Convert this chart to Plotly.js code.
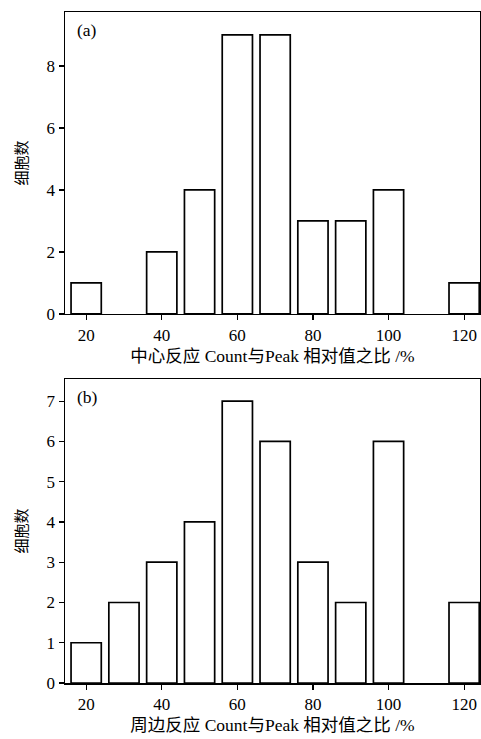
<!DOCTYPE html>
<html><head><meta charset="utf-8">
<script src="https://cdn.plot.ly/plotly-3.0.1.min.js"></script>
<style>html,body{margin:0;padding:0;background:#fff}</style>
</head><body><div id="chart" style="width:481px;height:739px"></div>
<script>
const binsA = [20, 40, 50, 60, 70, 80, 90, 100, 120];
const countsA = [1, 2, 4, 9, 9, 3, 3, 4, 1];
const binsB = [20, 30, 40, 50, 60, 70, 80, 90, 100, 120];
const countsB = [1, 2, 3, 4, 7, 6, 3, 2, 6, 2];
const xTicks = [20, 40, 60, 80, 100, 120];
const yTicksA = [0, 2, 4, 6, 8];
const yTicksB = [0, 1, 2, 3, 4, 5, 6, 7];
const xTitleA = '中心反应 Count与Peak 相对值之比 /%';
const xTitleB = '周边反应 Count与Peak 相对值之比 /%';
const yTitle = '细胞数';

const fontFam = '"Liberation Serif", "Noto Sans CJK SC", serif';
const barStyle = {color: '#fff', line: {color: '#000', width: 1.7}};

const data = [
  {type: 'bar', x: binsA, y: countsA, width: 8, marker: barStyle, xaxis: 'x', yaxis: 'y', hoverinfo: 'none'},
  {type: 'bar', x: binsB, y: countsB, width: 8, marker: barStyle, xaxis: 'x2', yaxis: 'y2', hoverinfo: 'none'}
];

function xax(anchor, title) {
  return {
    anchor: anchor, domain: [0, 1], range: [14.4, 124.2],
    tickvals: xTicks, ticks: 'outside', ticklen: 5, tickwidth: 1.2, tickcolor: '#000',
    showline: true, linecolor: '#000', linewidth: 1.5, mirror: true,
    showgrid: false, zeroline: false,
    tickfont: {family: fontFam, size: 17, color: '#000'},
    title: {text: title, font: {family: fontFam, size: 17.5, color: '#000'}, standoff: 6}
  };
}
function yax(anchor, domain, range, ticks) {
  return {
    anchor: anchor, domain: domain, range: range,
    tickvals: ticks, ticks: 'outside', ticklen: 5, tickwidth: 1.2, tickcolor: '#000',
    showline: true, linecolor: '#000', linewidth: 1.5, mirror: true,
    showgrid: false, zeroline: false,
    tickfont: {family: fontFam, size: 17, color: '#000'},
    title: {text: yTitle, font: {family: fontFam, size: 15, color: '#000'}, standoff: 15}
  };
}

const layout = {
  width: 481, height: 739,
  margin: {l: 65, r: 1, t: 12, b: 56},
  paper_bgcolor: '#fff', plot_bgcolor: '#fff',
  showlegend: false, bargap: 0,
  xaxis: xax('y', xTitleA),
  yaxis: yax('x', [0.550, 1], [0, 9.74], yTicksA),
  xaxis2: xax('y2', xTitleB),
  yaxis2: yax('x2', [0, 0.453], [0, 7.55], yTicksB),
  annotations: [
    {text: '(a)', xref: 'x', yref: 'y', x: 17, y: 9.55, xanchor: 'left', yanchor: 'top', showarrow: false,
     font: {family: fontFam, size: 17.5, color: '#000'}},
    {text: '(b)', xref: 'x2', yref: 'y2', x: 17, y: 7.4, xanchor: 'left', yanchor: 'top', showarrow: false,
     font: {family: fontFam, size: 17.5, color: '#000'}}
  ]
};
Plotly.newPlot('chart', data, layout, {staticPlot: true, displayModeBar: false});
</script></body></html>
